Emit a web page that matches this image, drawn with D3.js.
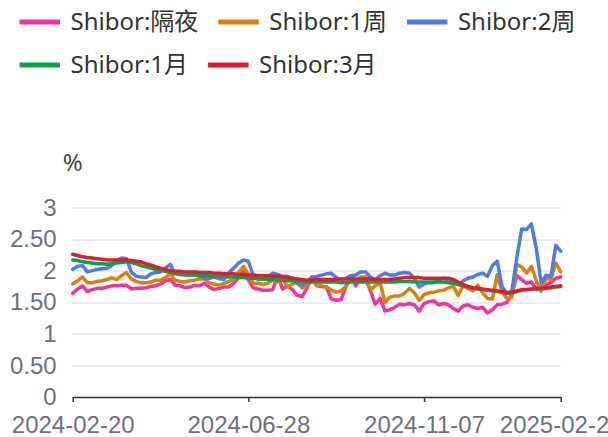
<!DOCTYPE html>
<html>
<head>
<meta charset="utf-8">
<script src="https://cdn.jsdelivr.net/npm/d3@7/dist/d3.min.js"></script>
<style>
body { margin: 0; background: #fff; }
svg { display: block; font-family: "Noto Sans", "Noto Sans CJK SC", sans-serif; }
</style>
</head>
<body>
<div id="chart"></div>
<script>
var seriesNames = ["Shibor:隔夜", "Shibor:1周", "Shibor:2周", "Shibor:1月", "Shibor:3月"];
var seriesColors = ["#f2339c", "#d9820b", "#4f7be9", "#0ba14a", "#e61a2e"];

// one value per sampled trading day, 2024-02-20 .. 2025-02-2x
var overnight = [1.64,1.71,1.76,1.67,1.70,1.72,1.72,1.74,1.76,1.76,
  1.77,1.77,1.71,1.72,1.72,1.73,1.75,1.76,1.79,1.84,
  1.86,1.77,1.76,1.73,1.74,1.77,1.76,1.80,1.74,1.70,
  1.72,1.74,1.74,1.80,1.89,2.03,1.85,1.73,1.71,1.69,
  1.69,1.70,1.92,1.71,1.76,1.70,1.61,1.59,1.72,1.90,
  1.76,1.75,1.74,1.55,1.53,1.54,1.75,1.92,1.76,1.88,
  1.89,1.68,1.47,1.56,1.36,1.38,1.42,1.47,1.46,1.48,
  1.46,1.36,1.48,1.51,1.52,1.46,1.48,1.46,1.40,1.36,
  1.44,1.46,1.42,1.40,1.42,1.33,1.38,1.46,1.47,1.50,
  1.63,1.92,1.86,1.80,1.82,1.70,1.74,1.78,1.81,1.88,
  1.90];

var week1 = [1.79,1.84,1.90,1.81,1.81,1.83,1.84,1.86,1.89,1.86,
  1.92,1.97,1.87,1.83,1.81,1.81,1.82,1.85,1.85,1.89,
  1.95,1.85,1.83,1.82,1.84,1.85,1.87,1.87,1.81,1.79,
  1.77,1.80,1.83,1.86,1.97,2.07,1.94,1.80,1.80,1.78,
  1.80,1.85,1.82,1.88,1.74,1.79,1.81,1.73,1.76,1.87,
  1.78,1.76,1.74,1.69,1.66,1.68,1.75,1.88,1.85,1.90,
  1.90,1.70,1.76,1.81,1.50,1.58,1.60,1.60,1.64,1.72,
  1.65,1.53,1.62,1.65,1.66,1.68,1.69,1.73,1.75,1.61,
  1.76,1.72,1.68,1.77,1.65,1.56,1.55,1.94,1.66,1.56,
  1.58,2.10,2.06,1.96,2.07,1.84,1.67,1.88,1.86,2.12,
  1.98];

var week2 = [2.02,2.07,2.08,1.98,2.00,2.02,2.03,2.04,2.08,2.16,
  2.20,2.19,1.98,1.91,1.90,1.89,1.95,1.97,1.98,2.04,
  2.10,1.95,1.94,1.93,1.93,1.93,1.92,1.88,1.88,1.90,
  1.87,1.86,1.97,2.04,2.12,2.17,2.15,1.92,1.86,1.87,
  1.90,1.96,1.94,1.91,1.91,1.88,1.80,1.76,1.84,1.89,
  1.91,1.93,1.95,1.96,1.89,1.86,1.88,1.92,1.93,1.98,
  1.98,1.90,1.86,1.92,1.96,1.93,1.93,1.96,1.97,1.96,
  1.88,1.74,1.79,1.81,1.81,1.85,1.88,1.85,1.82,1.78,
  1.84,1.88,1.90,1.94,1.96,1.91,2.08,2.15,1.74,1.64,
  1.68,2.20,2.66,2.65,2.74,2.35,1.80,1.93,1.91,2.40,
  2.31];

var month1 = [2.17,2.16,2.14,2.13,2.12,2.11,2.11,2.10,2.11,2.12,
  2.13,2.14,2.13,2.11,2.08,2.06,2.04,2.02,2.01,1.99,
  1.97,1.96,1.95,1.94,1.93,1.93,1.92,1.92,1.92,1.91,
  1.91,1.91,1.90,1.90,1.89,1.89,1.88,1.88,1.87,1.87,
  1.86,1.86,1.85,1.85,1.84,1.84,1.83,1.82,1.82,1.82,
  1.82,1.82,1.82,1.82,1.82,1.81,1.81,1.82,1.82,1.82,
  1.82,1.82,1.82,1.82,1.82,1.82,1.82,1.83,1.83,1.83,
  1.82,1.82,1.82,1.82,1.82,1.82,1.82,1.81,1.80,1.78,
  1.76,1.74,1.72,1.71,1.70,1.69,1.68,1.67,1.66,1.64,
  1.65,1.67,1.69,1.70,1.70,1.71,1.71,1.72,1.73,1.74,
  1.75];

var month3 = [2.26,2.24,2.22,2.21,2.20,2.19,2.18,2.17,2.17,2.17,
  2.17,2.17,2.16,2.15,2.14,2.11,2.09,2.06,2.04,2.02,
  2.00,1.99,1.99,1.98,1.98,1.98,1.97,1.97,1.97,1.96,
  1.96,1.95,1.95,1.95,1.94,1.94,1.93,1.93,1.92,1.92,
  1.92,1.91,1.91,1.90,1.89,1.88,1.87,1.86,1.85,1.85,
  1.86,1.86,1.86,1.86,1.86,1.87,1.87,1.87,1.87,1.87,
  1.87,1.87,1.86,1.86,1.86,1.86,1.87,1.88,1.89,1.89,
  1.89,1.89,1.88,1.88,1.88,1.88,1.88,1.88,1.86,1.82,
  1.78,1.75,1.73,1.72,1.71,1.70,1.69,1.68,1.67,1.65,
  1.66,1.68,1.70,1.70,1.71,1.72,1.72,1.73,1.74,1.75,
  1.76];

var yTicks = [0, 0.5, 1, 1.5, 2, 2.5, 3];
var yTickLabels = ["0", "0.50", "1", "1.50", "2", "2.50", "3"];
var xTickLabels = ["2024-02-20", "2024-06-28", "2024-11-07", "2025-02-21"];
var xTickIndex = [0, 36, 72, 100];

var allSeries = [overnight, week1, week2, month1, month3];

var width = 608, height = 437;
var margin = {top: 207.5, right: 47.3, bottom: 40, left: 72.7};
var innerW = width - margin.left - margin.right;
var innerH = height - margin.top - margin.bottom;

var svg = d3.select("#chart").append("svg")
    .attr("width", width)
    .attr("height", height);

var x = d3.scaleLinear()
    .domain([0, overnight.length - 1])
    .range([0, innerW]);

var y = d3.scaleLinear()
    .domain([0, 3])
    .range([innerH, 0]);

var g = svg.append("g")
    .attr("transform", "translate(" + margin.left + "," + margin.top + ")");

// grid
g.append("g")
    .selectAll("line")
    .data(yTicks.filter(function(d) { return d > 0; }))
    .join("line")
    .attr("x1", 0)
    .attr("x2", innerW)
    .attr("y1", function(d) { return Math.round(y(d)) + 0.5; })
    .attr("y2", function(d) { return Math.round(y(d)) + 0.5; })
    .attr("stroke", "#e0e6f1")
    .attr("stroke-width", 1.5);

// y axis labels only
var yAxis = g.append("g")
    .call(d3.axisLeft(y).tickValues(yTicks)
        .tickFormat(function(d, i) { return yTickLabels[i]; })
        .tickSize(0).tickPadding(16));
yAxis.select(".domain").remove();
yAxis.selectAll("text")
    .style("font-size", "24px")
    .attr("fill", "#6e7079");

// x axis
var xAxis = g.append("g")
    .attr("transform", "translate(0," + innerH + ")")
    .call(d3.axisBottom(x).tickValues(xTickIndex)
        .tickFormat(function(d, i) { return xTickLabels[i]; })
        .tickSize(5).tickSizeOuter(0).tickPadding(14));
xAxis.select(".domain").attr("stroke", "#333").attr("stroke-width", 1.5);
xAxis.selectAll(".tick line").attr("stroke", "#333").attr("stroke-width", 1.5);
xAxis.selectAll("text")
    .style("font-size", "24px")
    .attr("fill", "#6e7079");

// unit
svg.append("text")
    .attr("x", margin.left)
    .attr("y", 163)
    .attr("text-anchor", "middle")
    .attr("dy", "0.35em")
    .style("font-size", "24px")
    .attr("fill", "#444")
    .text("%");

// lines
var line = d3.line()
    .x(function(d, i) { return x(i); })
    .y(function(d) { return y(d); });

g.selectAll(".series")
    .data(allSeries)
    .join("path")
    .attr("class", "series")
    .attr("d", line)
    .attr("fill", "none")
    .attr("stroke", function(d, i) { return seriesColors[i]; })
    .attr("stroke-width", 3.5)
    .attr("stroke-linejoin", "round")
    .attr("stroke-linecap", "round");

// legend, flowed in rows like echarts
var legend = svg.append("g");
var lx = 19.5, ly = 22, rowGap = 43, iconW = 40.5, textGap = 10.5, itemGap = 20;
seriesNames.forEach(function(name, i) {
    var item = legend.append("g");
    var t = item.append("text")
        .attr("dy", "0.35em")
        .style("font-size", "24px")
        .attr("fill", "#333")
        .text(name);
    var w = iconW + textGap + t.node().getComputedTextLength();
    if (lx + w > width - 10) { lx = 19.5; ly += rowGap; }
    item.attr("transform", "translate(" + lx + "," + ly + ")");
    t.attr("x", iconW + textGap);
    item.append("line")
        .attr("x1", 0).attr("x2", iconW)
        .attr("y1", 0).attr("y2", 0)
        .attr("stroke", seriesColors[i])
        .attr("stroke-width", 5);
    lx += w + itemGap;
});
</script>
</body>
</html>
